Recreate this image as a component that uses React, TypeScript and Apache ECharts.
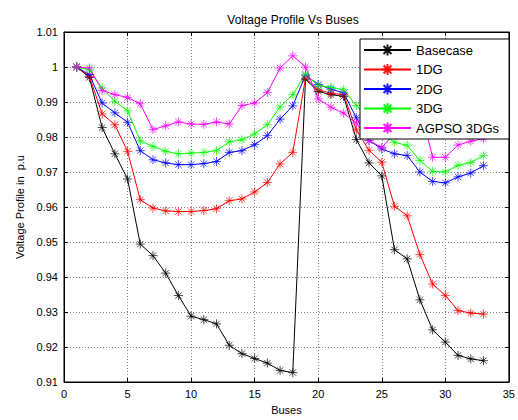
import React, { useEffect, useRef } from "react";
import * as echarts from "echarts";

const buses = [1,2,3,4,5,6,7,8,9,10,11,12,13,14,15,16,17,18,19,20,21,22,23,24,25,26,27,28,29,30,31,32,33];

const basecase = [1.0, 0.997, 0.9827, 0.9752, 0.968, 0.9494, 0.9461, 0.9411, 0.9347, 0.9288, 0.9278, 0.9266, 0.9205, 0.9181, 0.9167, 0.9154, 0.9133, 0.9127, 0.9965, 0.993, 0.9921, 0.9916, 0.9793, 0.9726, 0.9689, 0.9478, 0.9452, 0.9335, 0.9249, 0.9214, 0.9176, 0.9166, 0.9161];
const dg1 = [1.0, 0.9973, 0.9866, 0.9835, 0.9759, 0.9621, 0.9597, 0.9589, 0.9587, 0.9587, 0.959, 0.9595, 0.9618, 0.9623, 0.9643, 0.967, 0.9723, 0.9756, 0.9968, 0.9935, 0.9925, 0.9921, 0.982, 0.9762, 0.9728, 0.9602, 0.9575, 0.9464, 0.938, 0.9347, 0.9304, 0.9297, 0.9294];
const dg2 = [1.0, 0.9978, 0.9897, 0.9869, 0.9842, 0.9761, 0.9735, 0.9726, 0.9721, 0.9721, 0.9724, 0.973, 0.9756, 0.9761, 0.9778, 0.9804, 0.9851, 0.9889, 0.9977, 0.995, 0.9937, 0.9926, 0.9855, 0.979, 0.9766, 0.9752, 0.9747, 0.97, 0.9673, 0.9669, 0.9686, 0.9697, 0.9718];
const dg3 = [1.0, 0.9992, 0.994, 0.9902, 0.9875, 0.9789, 0.9773, 0.9759, 0.9752, 0.9754, 0.9756, 0.9761, 0.9786, 0.9792, 0.9809, 0.9835, 0.9886, 0.9921, 0.998, 0.9947, 0.9942, 0.9935, 0.989, 0.985, 0.981, 0.9785, 0.9776, 0.9733, 0.9702, 0.97, 0.9719, 0.9727, 0.9747];
const agpso = [1.0, 0.9997, 0.9933, 0.9921, 0.9913, 0.9895, 0.9821, 0.9832, 0.9843, 0.9837, 0.9836, 0.9843, 0.9837, 0.989, 0.9897, 0.9927, 0.9997, 1.0032, 1.0, 0.9909, 0.9885, 0.9868, 0.984, 0.979, 0.977, 0.981, 0.985, 0.989, 0.9742, 0.9742, 0.9777, 0.9788, 0.9795];

const seriesNames = ["Basecase", "1DG", "2DG", "3DG", "AGPSO 3DGs"];
const seriesValues = [basecase, dg1, dg2, dg3, agpso];
const seriesColors = ["#000000", "#ff0000", "#0000ff", "#00ff00", "#ff00ff"];

const yTicks = { min: 0.91, max: 1.01, interval: 0.01 };
const xTicks = { min: 0, max: 35, interval: 5 };

const asterisk = "path://M0,-5L0,5M-5,0L5,0M-3.5,-3.5L3.5,3.5M-3.5,3.5L3.5,-3.5";
const font = "Liberation Sans, Arial, Helvetica, sans-serif";

export default function App() {
  const ref = useRef<HTMLDivElement>(null);
  useEffect(() => {
    if (!ref.current) return;
    const chart = echarts.init(ref.current, undefined, { renderer: "svg" });
    const fmtY = (v: number) => (Math.round(v * 100) / 100).toString();
    const gridLine = { show: true, lineStyle: { color: "#808080", type: [1, 2] as any, width: 1 } };
    chart.setOption({
      animation: false,
      backgroundColor: "#ffffff",
      textStyle: { fontFamily: font },
      title: {
        text: "Voltage Profile Vs Buses",
        left: 288,
        textAlign: "center",
        top: 9,
        textStyle: { fontFamily: font, fontSize: 12, fontWeight: "normal", color: "#000" },
      },
      grid: { left: 64, right: 6, top: 32, bottom: 38, show: true, borderColor: "#000", borderWidth: 1, backgroundColor: "#fff" },
      legend: {
        orient: "vertical",
        left: 360,
        top: 39,
        data: seriesNames,
        backgroundColor: "#ffffff",
        borderColor: "#000",
        borderWidth: 1,
        padding: [4, 10, 4, 3],
        itemWidth: 47,
        itemHeight: 14,
        itemGap: 5.5,
        textStyle: { fontFamily: font, fontSize: 13, color: "#000", lineHeight: 14 },
      },
      xAxis: [
        {
          type: "value",
          min: xTicks.min,
          max: xTicks.max,
          interval: xTicks.interval,
          name: "Buses",
          nameLocation: "middle",
          nameGap: 22,
          nameTextStyle: { fontFamily: font, fontSize: 11, color: "#000" },
          axisLine: { show: true, onZero: false, lineStyle: { color: "#000" } },
          axisTick: { show: true, inside: true, length: 4, lineStyle: { color: "#000" } },
          axisLabel: { fontFamily: font, fontSize: 11, color: "#000", margin: 6 },
          splitLine: gridLine,
        },
        {
          type: "value",
          position: "top",
          min: xTicks.min,
          max: xTicks.max,
          interval: xTicks.interval,
          axisLine: { show: true, onZero: false, lineStyle: { color: "#000" } },
          axisTick: { show: true, inside: true, length: 4, lineStyle: { color: "#000" } },
          axisLabel: { show: false },
          splitLine: { show: false },
        },
      ],
      yAxis: [
        {
          type: "value",
          min: yTicks.min,
          max: yTicks.max,
          interval: yTicks.interval,
          name: "Voltage Profile in  p.u",
          nameLocation: "middle",
          nameGap: 38,
          nameTextStyle: { fontFamily: font, fontSize: 11, color: "#000" },
          axisLine: { show: true, onZero: false, lineStyle: { color: "#000" } },
          axisTick: { show: true, inside: true, length: 4, lineStyle: { color: "#000" } },
          axisLabel: { fontFamily: font, fontSize: 11, color: "#000", margin: 6, formatter: fmtY },
          splitLine: gridLine,
        },
        {
          type: "value",
          position: "right",
          min: yTicks.min,
          max: yTicks.max,
          interval: yTicks.interval,
          axisLine: { show: true, onZero: false, lineStyle: { color: "#000" } },
          axisTick: { show: true, inside: true, length: 4, lineStyle: { color: "#000" } },
          axisLabel: { show: false },
          splitLine: { show: false },
        },
      ],
      series: seriesNames.map((name, i) => ({
        name,
        type: "line",
        xAxisIndex: 0,
        yAxisIndex: 0,
        data: buses.map((b, j) => [b, seriesValues[i][j]]),
        symbol: asterisk,
        symbolSize: 9,
        lineStyle: { color: seriesColors[i], width: 1 },
        itemStyle: { color: seriesColors[i], borderColor: seriesColors[i], borderWidth: 0.8, opacity: 0.9 },
        emphasis: { disabled: true },
      })),
    });
    return () => chart.dispose();
  }, []);
  return <div ref={ref} style={{ position: "fixed", left: 0, top: 0, width: 518, height: 420 }} />;
}
